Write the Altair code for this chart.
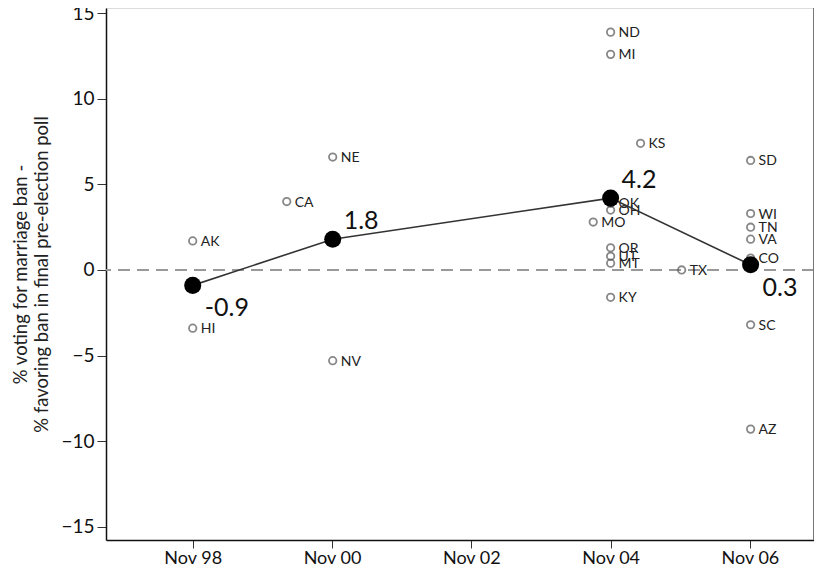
import altair as alt
import pandas as pd

# State-level results: date (decimal year), difference, state code
state_codes = ["AK", "HI", "CA", "NE", "NV", "MO", "ND", "MI", "OK", "OH", "OR", "UT", "MT", "KY",
               "KS", "TX", "SD", "WI", "TN", "VA", "CO", "SC", "AZ"]
state_dates = [1998.84, 1998.84, 2000.19, 2000.85, 2000.85, 2004.59, 2004.84, 2004.84, 2004.84, 2004.84,
               2004.84, 2004.84, 2004.84, 2004.84, 2005.27, 2005.86, 2006.85, 2006.85, 2006.85, 2006.85,
               2006.85, 2006.85, 2006.85]
state_diffs = [1.7, -3.4, 4.0, 6.6, -5.3, 2.8, 13.9, 12.6, 3.9, 3.5, 1.3, 0.8, 0.4, -1.6,
               7.4, 0.0, 6.4, 3.3, 2.5, 1.8, 0.7, -3.2, -9.3]

# Averages by election
mean_dates = [1998.84, 2000.85, 2004.84, 2006.85]
mean_values = [-0.9, 1.8, 4.2, 0.3]
mean_labels = ["-0.9", "1.8", "4.2", "0.3"]
mean_side = ["below", "above", "above", "below"]

# Axis ticks
x_tick_values = [1998.84, 2000.84, 2002.84, 2004.84, 2006.84]
x_tick_labels = ["Nov 98", "Nov 00", "Nov 02", "Nov 04", "Nov 06"]
y_tick_values = [-15, -10, -5, 0, 5, 10, 15]

states = pd.DataFrame({"date": state_dates, "diff": state_diffs, "state": state_codes})
means = pd.DataFrame({"date": mean_dates, "diff": mean_values, "label": mean_labels, "side": mean_side})

FONT = "Lato"
W, H = 708, 532

label_map = "{" + ",".join(f"'{v}':'{l}'" for v, l in zip(x_tick_values, x_tick_labels)) + "}"

xscale = alt.Scale(domain=[1997.595, 2007.76], nice=False, zero=False)
yscale = alt.Scale(domain=[-15.78, 15.31], nice=False, zero=False)

xaxis = alt.Axis(values=x_tick_values, labelExpr=f"{label_map}[toString(datum.value)]",
                 title=None, grid=False, labelFont=FONT, labelFontSize=18, labelColor="#111",
                 tickSize=8, tickColor="#333", domainColor="#111", domainWidth=1.5,
                 labelPadding=1)
yaxis = alt.Axis(values=y_tick_values, format="d", grid=False,
                 title=["% voting for marriage ban -", "% favoring ban in final pre-election poll"],
                 titleFont=FONT, titleFontSize=18.5, titleFontWeight="normal", titleColor="#222",
                 titleLineHeight=21, titlePadding=9, labelFont=FONT, labelFontSize=19,
                 labelColor="#111", tickSize=9, tickColor="#333", domainColor="#111",
                 domainWidth=1.5, labelPadding=3)

base_s = alt.Chart(states)
pts = base_s.mark_point(shape="circle", filled=False, size=55, strokeWidth=1.8, color="#555").encode(
    x=alt.X("date:Q", scale=xscale, axis=xaxis),
    y=alt.Y("diff:Q", scale=yscale, axis=yaxis),
)
txt = base_s.mark_text(align="left", baseline="middle", dx=8, dy=1, font=FONT, fontSize=14,
                       color="#222").encode(x="date:Q", y="diff:Q", text="state:N")

zero = alt.Chart(pd.DataFrame({"z": [0]})).mark_rule(color="#999", strokeWidth=2,
                                                      strokeDash=[12, 7]).encode(y=alt.Y("z:Q", scale=yscale))

base_m = alt.Chart(means)
line = base_m.mark_line(color="#333", strokeWidth=1.6).encode(x="date:Q", y="diff:Q")
dots = base_m.mark_point(shape="circle", filled=True, size=290, color="black", opacity=1).encode(
    x="date:Q", y="diff:Q")
lab_above = base_m.transform_filter("datum.side == 'above'").mark_text(
    align="left", baseline="middle", dx=11, dy=-18, font=FONT, fontSize=25, color="#111").encode(
    x="date:Q", y="diff:Q", text="label:N")
lab_below = base_m.transform_filter("datum.side == 'below'").mark_text(
    align="left", baseline="middle", dx=12, dy=23, font=FONT, fontSize=25, color="#111").encode(
    x="date:Q", y="diff:Q", text="label:N")

right_border = alt.Chart(pd.DataFrame({"a": [1]})).mark_rule(color="#777", strokeWidth=2).encode(
    x=alt.value(W), y=alt.value(0), y2=alt.value(H))

chart = alt.layer(zero, pts, txt, line, dots, lab_above, lab_below, right_border).properties(
    width=W, height=H,
    autosize=alt.AutoSizeParams(type="none"),
    padding={"left": 98, "top": 0, "right": 0, "bottom": 27},
).configure_view(stroke=None).configure(background="white")

chart.save("out.html", embed_options={"renderer": "svg", "actions": False})
